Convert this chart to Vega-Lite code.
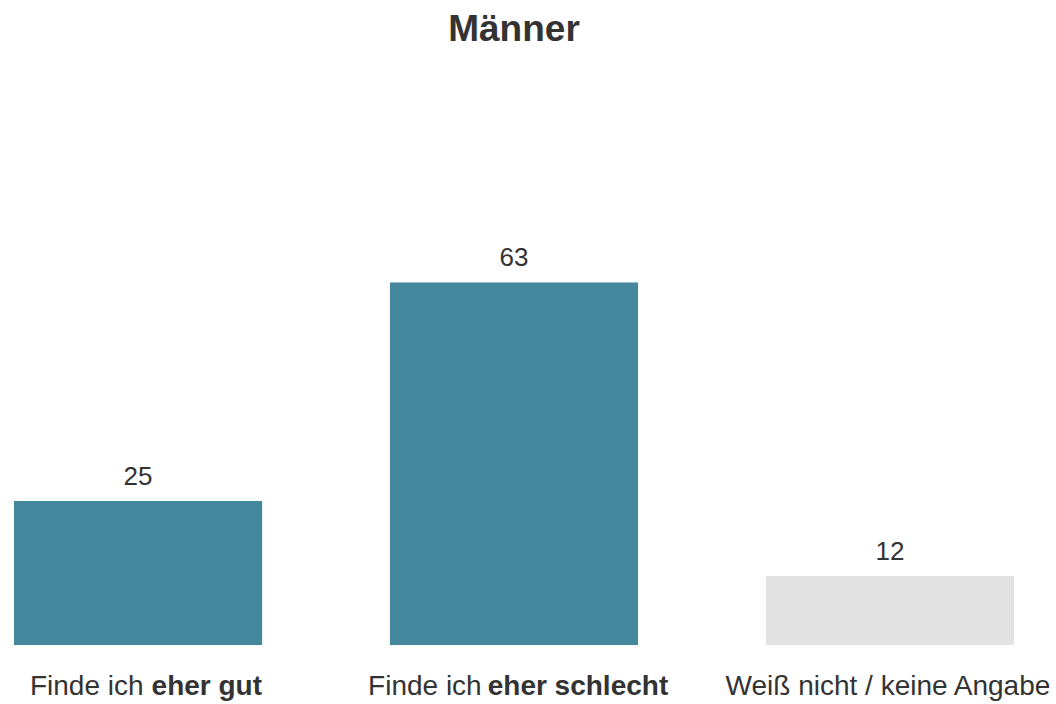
{
  "$schema": "https://vega.github.io/schema/vega-lite/v6.json",
  "width": 1000,
  "height": 400,
  "autosize": {"type": "none"},
  "padding": {"left": 14, "top": 245, "right": 42, "bottom": 59},
  "background": "white",
  "config": {"view": {"stroke": null}, "font": "Liberation Sans"},
  "title": {
    "text": "Männer",
    "fontSize": 37,
    "fontWeight": "bold",
    "color": "#333333",
    "font": "Liberation Sans",
    "anchor": "middle",
    "frame": "group",
    "baseline": "alphabetic",
    "offset": 167
  },
  "data": {
    "values": [
      {"Kategorie": "Finde ich eher gut", "Wert": 25, "Typ": "Meinung", "Normal": "Finde ich", "Fett": "eher gut"},
      {"Kategorie": "Finde ich eher schlecht", "Wert": 63, "Typ": "Meinung", "Normal": "Finde ich", "Fett": "eher schlecht"},
      {"Kategorie": "Weiß nicht / keine Angabe", "Wert": 12, "Typ": "Keine Angabe", "Normal": "Weiß nicht / keine Angabe", "Fett": ""}
    ]
  },
  "encoding": {
    "x": {
      "field": "Kategorie",
      "type": "nominal",
      "sort": null,
      "axis": null,
      "scale": {"paddingInner": 0.34, "paddingOuter": 0}
    }
  },
  "layer": [
    {
      "mark": {"type": "bar"},
      "encoding": {
        "y": {"field": "Wert", "type": "quantitative", "axis": null, "scale": {"domain": [0, 69.5], "nice": false}},
        "color": {
          "field": "Typ",
          "type": "nominal",
          "legend": null,
          "scale": {"domain": ["Meinung", "Keine Angabe"], "range": ["#45879c", "#e2e2e2"]}
        }
      }
    },
    {
      "mark": {"type": "text", "fontSize": 26, "color": "#333333", "baseline": "alphabetic", "dy": -16},
      "encoding": {
        "y": {"field": "Wert", "type": "quantitative"},
        "text": {"field": "Wert", "type": "quantitative"}
      }
    },
    {
      "transform": [{"filter": "datum.Kategorie === 'Finde ich eher gut'"}],
      "mark": {"type": "text", "fontSize": 28, "color": "#333333", "baseline": "alphabetic", "align": "right", "dy": 50, "dx": 5.5},
      "encoding": {"y": {"datum": 0}, "text": {"field": "Normal"}}
    },
    {
      "transform": [{"filter": "datum.Kategorie === 'Finde ich eher gut'"}],
      "mark": {"type": "text", "fontSize": 28, "fontWeight": "bold", "color": "#333333", "baseline": "alphabetic", "align": "left", "dy": 50, "dx": 13.5},
      "encoding": {"y": {"datum": 0}, "text": {"field": "Fett"}}
    },
    {
      "transform": [{"filter": "datum.Kategorie === 'Finde ich eher schlecht'"}],
      "mark": {"type": "text", "fontSize": 28, "color": "#333333", "baseline": "alphabetic", "align": "right", "dy": 50, "dx": -32.3},
      "encoding": {"y": {"datum": 0}, "text": {"field": "Normal"}}
    },
    {
      "transform": [{"filter": "datum.Kategorie === 'Finde ich eher schlecht'"}],
      "mark": {"type": "text", "fontSize": 28, "fontWeight": "bold", "color": "#333333", "baseline": "alphabetic", "align": "left", "dy": 50, "dx": -26.3},
      "encoding": {"y": {"datum": 0}, "text": {"field": "Fett"}}
    },
    {
      "transform": [{"filter": "datum.Kategorie === 'Weiß nicht / keine Angabe'"}],
      "mark": {"type": "text", "fontSize": 28, "color": "#333333", "baseline": "alphabetic", "align": "center", "dy": 50, "dx": -2},
      "encoding": {"y": {"datum": 0}, "text": {"field": "Normal"}}
    }
  ]
}
